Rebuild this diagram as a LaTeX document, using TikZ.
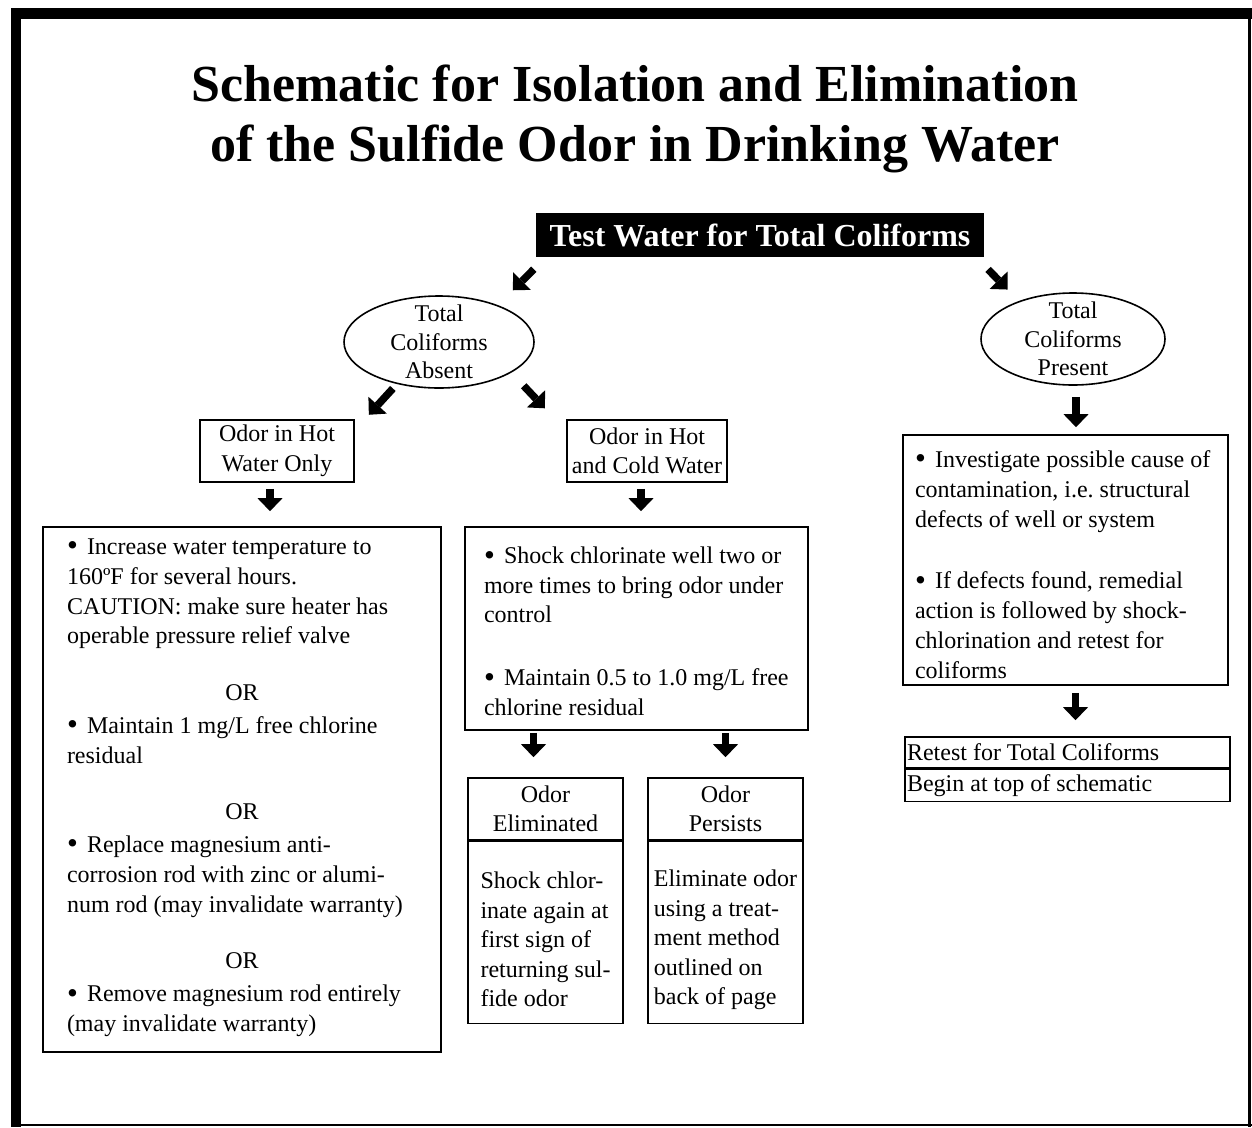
\documentclass[tikz,border=0pt]{standalone}
\usepackage{fontspec}
\setmainfont{Liberation Serif}
\usepackage{tikz}
\usetikzlibrary{arrows.meta,positioning,shapes.geometric,calc}

\newcommand{\bodysize}{\fontsize{24}{29.5}\selectfont}
\newcommand{\orline}{\makebox[\linewidth]{OR}}
\newcommand{\bul}{\makebox[20pt][l]{\raisebox{-1.5pt}{\fontsize{31}{29}\selectfont •}}}
\frenchspacing

\begin{document}
\begin{tikzpicture}[x=1pt, y=1pt,
  box/.style={draw, line width=1.6pt, inner sep=0pt, align=center, font=\bodysize},
  txtbox/.style={box, align=left},
  listbox/.style={box, align=flush left},
  oval/.style={draw, ellipse, line width=1.6pt, inner xsep=0pt, inner ysep=-8pt,
    align=center, font=\fontsize{24}{28.5}\selectfont},
  fat/.style={line width=7.5pt, -{Triangle[length=13pt, width=25pt, line width=0pt]}},
]
  \useasboundingbox (0,0) rectangle (1252,-1127);

  % Frame: heavy top and left edge, thin right and bottom edge
  \fill (11,-8) rectangle (1252,-19);
  \fill (11,-8) rectangle (21,-1127);
  \draw[line width=2.5pt] (1249.5,-8) -- (1249.5,-1127);
  \draw[line width=2.5pt] (11,-1125) -- (1252,-1125);

  % Title and first test
  \node[font=\bfseries\fontsize{52}{60}\selectfont, align=center] (title) at (635,-119)
    {Schematic for Isolation and Elimination\\of the Sulfide Odor in Drinking Water};
  \node[fill=black, text=white, font=\bfseries\fontsize{32}{36}\selectfont,
    minimum width=448pt, minimum height=44pt, inner sep=0pt] (test) at (760,-235)
    {Test Water for Total Coliforms};

  % Test results
  \node[oval, minimum width=190pt, minimum height=92pt] (absent) at (439,-342)
    {Total\\Coliforms\\Absent};
  \node[oval, minimum width=184pt, minimum height=92pt] (present) at (1073,-339)
    {Total\\Coliforms\\Present};

  % Coliforms absent: where the odor is
  \node[box, minimum width=154pt, minimum height=62pt] (hotonly) at (277,-451)
    {Odor in Hot\\Water Only};
  \node[box, minimum width=160pt, minimum height=62pt] (hotcold) at (647,-451)
    {Odor in Hot\\and Cold Water};

  \node[listbox, minimum width=398pt, minimum height=525pt, text width=350pt,
    font=\fontsize{24}{29.9}\selectfont] (lbox) at (242,-789.5) {%
    \bul Increase water temperature to\\
    160ºF for several hours.\\
    CAUTION: make sure heater has\\
    operable pressure relief valve\\[26.5pt]
    \orline\\[3pt]
    \bul Maintain 1 mg/L free chlorine\\
    residual\\[26.5pt]
    \orline\\[3pt]
    \bul Replace magnesium anti-\\
    corrosion rod with zinc or alumi-\\
    num rod (may invalidate warranty)\\[26.5pt]
    \orline\\[3pt]
    \bul Remove magnesium rod entirely\\
    (may invalidate warranty)\rule[-9pt]{0pt}{9pt}};

  \node[listbox, minimum width=343pt, minimum height=203pt, text width=305pt]
    (mbox) at (636.5,-628.5) {%
    \rule{0pt}{22pt}\bul Shock chlorinate well two or\\
    more times to bring odor under\\
    control\\[33.5pt]
    \bul Maintain 0.5 to 1.0 mg/L free\\
    chlorine residual};

  % Outcome of shock chlorination
  \node[box, minimum width=155pt, minimum height=62pt] (elimhead) at (545.5,-809)
    {Odor\\Eliminated};
  \node[txtbox, minimum width=155pt, minimum height=182pt, anchor=north] (elimbody)
    at (elimhead.south)
    {\rule{0pt}{31pt}Shock chlor-\\inate again at\\first sign of\\returning sul-\\fide odor};
  \node[box, minimum width=155pt, minimum height=62pt] (pershead) at (725.5,-809)
    {Odor\\Persists};
  \node[txtbox, minimum width=155pt, minimum height=182pt, anchor=north] (persbody)
    at (pershead.south)
    {\rule{0pt}{31pt}Eliminate odor\\using a treat-\\ment method\\outlined on\\back of page};

  % Coliforms present
  \node[listbox, minimum width=325pt, minimum height=250pt, text width=301pt,
    font=\fontsize{24}{29.8}\selectfont] (rbox) at (1065.5,-560) {%
    \rule{0pt}{26pt}\bul Investigate possible cause of\\
    contamination, i.e. structural\\
    defects of well or system\\[32pt]
    \bul If defects found, remedial\\
    action is followed by shock-\\
    chlorination and retest for\\
    coliforms};
  \node[listbox, minimum width=325pt, minimum height=31pt, text width=321pt] (retest)
    at (1067.5,-752.5) {Retest for Total Coliforms};
  \node[listbox, minimum width=325pt, minimum height=32pt, text width=321pt,
    anchor=north] (restart) at (retest.south) {Begin at top of schematic};

  % Arrows
  \draw[fat, shorten <=17pt, shorten >=21pt] ([xshift=10pt]test.south west) -- (absent.32);
  \draw[fat, shorten <=17pt, shorten >=16pt] ([xshift=-8pt]test.south east) -- (present.145);
  \draw[fat, shorten <=6pt, shorten >=6pt] (absent.-135) -- ([xshift=10pt]hotonly.north east);
  \draw[fat, shorten <=18pt, shorten >=15pt] (absent.-23) -- ([xshift=-11pt]hotcold.north west);
  \draw[fat, shorten <=11pt, shorten >=7pt] ([xshift=3pt]present.south)
    -- ([xshift=3pt]present.south |- rbox.north);
  \draw[fat, shorten <=6pt, shorten >=15pt] ([xshift=-7pt]hotonly.south)
    -- ([xshift=-7pt]hotonly.south |- lbox.north);
  \draw[fat, shorten <=6pt, shorten >=15pt] ([xshift=-6pt]hotcold.south)
    -- ([xshift=-6pt]hotcold.south |- mbox.north);
  \draw[fat, shorten <=2pt, shorten >=20pt] ([xshift=-12pt]elimhead.north |- mbox.south)
    -- ([xshift=-12pt]elimhead.north);
  \draw[fat, shorten <=2pt, shorten >=20pt] (pershead.north |- mbox.south) -- (pershead.north);
  \draw[fat, shorten <=7pt, shorten >=16pt] ([xshift=8pt]retest.north |- rbox.south)
    -- ([xshift=8pt]retest.north);
\end{tikzpicture}
\end{document}
